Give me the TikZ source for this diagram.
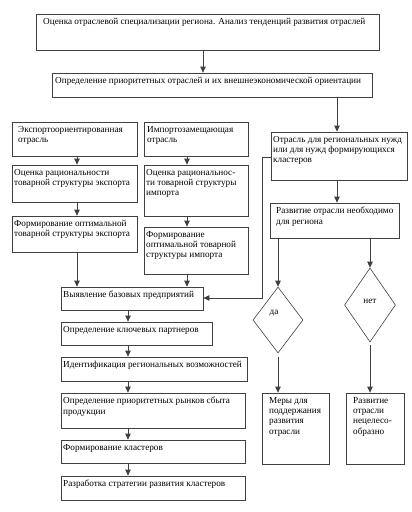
\documentclass[tikz,border=0pt]{standalone}
\usepackage{fontspec}
\setmainfont{Liberation Serif}
\usetikzlibrary{arrows.meta,fit,shapes.geometric}
\tikzset{
  box/.style={draw=black!75,line width=0.8pt,inner sep=0pt},
  txt/.style={font=\fontsize{9.2}{10.3}\selectfont,align=left,inner sep=0pt,anchor=north west},
  arr/.style={draw=black!75,line width=0.8pt,-{Triangle[width=5.5pt,length=6pt]}},
  dia/.style={draw=black!75,line width=0.6pt,diamond,inner sep=0pt,minimum width=#1},
}
\newcommand\bx[7]{%
  \node[box,fit={(#2,#3) (#4,#5)}] (#1) {};
  \node[txt] (#1t) at (#2+#6,#3+4) {#7};}
\begin{document}
\begin{tikzpicture}[x=1pt,y=-1pt]
\useasboundingbox (0,0) rectangle (412,512);
\bx{a}{36}{14}{379}{50}{7}{Оценка отраслевой специализации региона. Анализ тенденций развития отраслей}
\bx{b}{52}{73}{372}{97}{3}{Определение приоритетных отраслей и их внешнеэкономической ориентации}
\bx{c}{12}{122}{137}{156}{6}{Экспортоориентированная\\отрасль}
\bx{d}{144}{122}{248}{156}{3}{Импортозамещающая\\отрасль}
\bx{e}{12}{165}{137}{202}{2}{Оценка рациональности\\товарной структуры экспорта}
\bx{f}{144}{165}{248}{216}{2}{Оценка рациональнос-\\ти товарной структуры\\импорта}
\bx{g}{12}{216}{137}{252}{2}{Формирование оптимальной\\товарной структуры экспорта}
\bx{h}{144}{227}{248}{274}{2}{Формирование\\оптимальной товарной\\структуры импорта}
\bx{i}{271}{132}{407}{180}{2}{Отрасль для региональных нужд\\или для нужд формирующихся\\кластеров}
\bx{j}{270}{203}{399}{238}{6}{Развитие отрасли необходимо\\для региона}
\bx{k}{61}{287}{203}{310}{2}{Выявление базовых предприятий}
\bx{l}{61}{322}{212}{345}{2}{Определение ключевых партнеров}
\bx{m}{61}{357}{247}{381}{2}{Идентификация региональных возможностей}
\bx{n}{61}{393}{245}{428}{2}{Определение приоритетных рынков сбыта\\продукции}
\bx{o}{61}{440}{245}{463}{2}{Формирование кластеров}
\bx{p}{61}{476}{245}{500}{2}{Разработка стратегии развития кластеров}
\bx{q}{262}{393}{329}{464}{7}{Меры для\\поддержания\\развития\\отрасли}
\bx{r}{346}{393}{404}{464}{7}{Развитие\\отрасли\\нецелесо-\\образно}
\node[dia=50pt,minimum height=66pt] (da) at (278,320) {};
\node[txt,anchor=center] at (274,313) {да};
\node[dia=51pt,minimum height=74pt] (net) at (370,305) {};
\node[txt,anchor=center] at (370,301) {нет};
\draw[arr] (a.south -| 203,0) -- (b.north -| 203,0);
\draw[arr] (b.south -| 337,0) -- (i.north -| 337,0);
\draw[arr] (c.south -| 77,0) -- (e.north -| 77,0);
\draw[arr] (e.south -| 77,0) -- (g.north -| 77,0);
\draw[arr] (g.south -| 77,0) -- (k.north -| 77,0);
\draw[arr] (d.south -| 187,0) -- (f.north -| 187,0);
\draw[arr] (f.south -| 187,0) -- (h.north -| 187,0);
\draw[arr] (h.south -| 187,0) -- (k.north -| 187,0);
\draw[arr] (k.south -| 128,0) -- (l.north -| 128,0);
\draw[arr] (l.south -| 128,0) -- (m.north -| 128,0);
\draw[arr] (m.south -| 128,0) -- (n.north -| 128,0);
\draw[arr] (n.south -| 128,0) -- (o.north -| 128,0);
\draw[arr] (o.south -| 128,0) -- (p.north -| 128,0);
\draw[arr] (i.west |- 0,157) -- (262,157) -- (262,298) -- (k.east |- 0,298);
\draw[arr] (i.south -| 337,0) -- (j.north -| 337,0);
\draw[arr] (j.south -| 278,0) -- (da.north);
\draw[arr] (j.south -| 370,0) -- (net.north);
\draw[arr] ([yshift=-4pt]da.south) -- (q.north -| 278,0);
\draw[arr] ([yshift=-3pt]net.south) -- (r.north -| 370,0);
\end{tikzpicture}
\end{document}
